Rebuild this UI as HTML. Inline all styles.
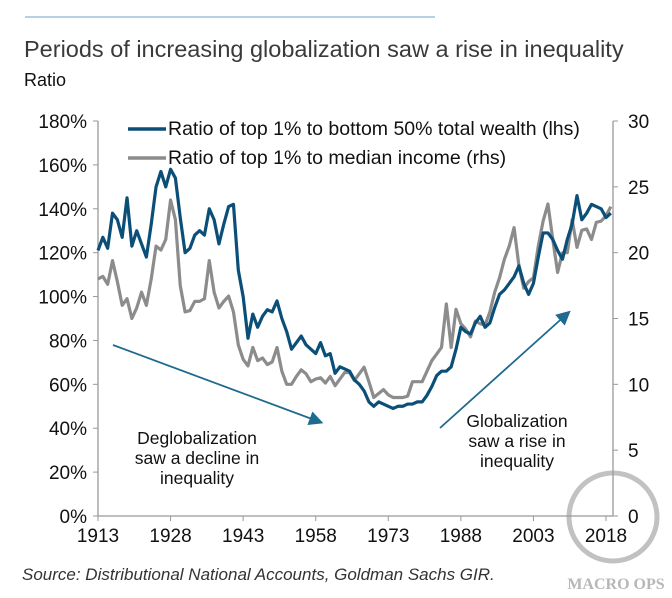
<!DOCTYPE html>
<html><head><meta charset="utf-8"><style>
body{margin:0;background:#fff;width:672px;height:598px;overflow:hidden;font-family:"Liberation Sans",sans-serif}
svg{display:block}
</style></head><body>
<svg width="672" height="598" font-family="Liberation Sans, sans-serif">
<line x1="25" y1="17" x2="435" y2="17" stroke="#9cc3dc" stroke-width="1.5"/>
<text x="24" y="57" font-size="23.5" fill="#3a3a3a">Periods of increasing globalization saw a rise in inequality</text>
<text x="24" y="86" font-size="18" fill="#111">Ratio</text>
<g id="axes"></g>
<g id="series"></g>
<g>
<line x1="128" y1="129" x2="166" y2="129" stroke="#0b4f78" stroke-width="3.5"/>
<text x="168" y="135" font-size="19.5" fill="#111">Ratio of top 1% to bottom 50% total wealth (lhs)</text>
<line x1="128" y1="158" x2="166" y2="158" stroke="#8c8c8c" stroke-width="3.5"/>
<text x="168" y="164" font-size="19.5" fill="#111">Ratio of top 1% to median income (rhs)</text>
</g>
<defs><marker id="ah" markerWidth="8" markerHeight="8" refX="6" refY="4" orient="auto"><path d="M0,0 L8,4 L0,8 z" fill="#1f6a8f"/></marker></defs>
<line x1="113" y1="345" x2="320" y2="422" stroke="#1f6a8f" stroke-width="1.8" marker-end="url(#ah)"/>
<line x1="440" y1="428" x2="568" y2="313" stroke="#1f6a8f" stroke-width="1.8" marker-end="url(#ah)"/>
<text font-size="17.5" fill="#111" text-anchor="middle"><tspan x="197" y="444">Deglobalization</tspan><tspan x="197" y="464">saw a decline in</tspan><tspan x="197" y="484">inequality</tspan></text>
<text font-size="17.5" fill="#111" text-anchor="middle"><tspan x="517" y="427">Globalization</tspan><tspan x="517" y="447">saw a rise in</tspan><tspan x="517" y="467">inequality</tspan></text>
<text x="22" y="580" font-size="17" font-style="italic" fill="#333">Source: Distributional National Accounts, Goldman Sachs GIR.</text>
<g opacity="0.6">
<circle cx="613" cy="517" r="44" fill="none" stroke="#999" stroke-width="5"/>
<text x="616" y="589" font-size="16" font-family="Liberation Serif, serif" fill="#888" text-anchor="middle" font-weight="bold">MACRO OPS</text>
</g>
</svg>
<script>
const years=[];for(let y=1913;y<=2019;y++)years.push(y);
const wealthPct=[121,127,122,138,135,127,145,123,130,124,118,133,150,157,150,158,154,136,120,122,128,130,128,140,135,124,133,141,142,112,100,81,92,86,91,94,93,98,90,84,76,79,82,78,76,74,79,73,74,65,68,67,66,62,60,57,52,50,52,51,50,49,50,50,51,51,52,52,55,59,64,66,66,68,76,86,84,83,88,91,86,88,95,101,103,106,109,114,106,101,106,118,129,129,126,121,117,126,133,146,135,138,142,141,140,136,138];
const incomeRatio=[18,18.2,17.6,19.4,17.8,16,16.5,15,15.8,17,16,18,20.5,20.2,21,24,22.5,17.5,15.5,15.6,16.3,16.3,16.5,19.4,17,15.8,16.3,16.7,15.5,13,11.9,11.4,12.8,11.8,12,11.5,11.7,12.8,11,10,10,10.6,11.1,10.8,10.2,10.4,10.5,10.1,10.6,9.9,10.4,10.9,10.9,10.3,10.8,11.3,10.2,9,9.3,9.6,9.2,9.0,9.0,9.0,9.1,10.2,10.2,10.2,11,11.8,12.3,12.8,16.1,12.8,15.7,14.6,14.2,13.6,14.8,14.6,14.5,15.5,17,18.1,19.5,20.5,21.9,19,17.3,17.8,18.1,20.5,22.4,23.7,21,18.5,20,20,22.5,20.4,21.7,21.8,21,22.3,22.4,22.8,23.5];
const leftTicks=[0,20,40,60,80,100,120,140,160,180];
const rightTicks=[0,5,10,15,20,25,30];
const xTicks=[1913,1928,1943,1958,1973,1988,2003,2018];
const X0=98,X1=613,Y0=516,Y1=121;
const xs=y=>X0+(y-1913)*(606-98)/(2018-1913);
const yl=v=>Y0-(v/180)*(Y0-Y1);
const yr=v=>Y0-(v/30)*(Y0-Y1);
const NS="http://www.w3.org/2000/svg";
function mk(tag,attrs,parent){const e=document.createElementNS(NS,tag);for(const k in attrs)e.setAttribute(k,attrs[k]);parent.appendChild(e);return e;}
const ax=document.getElementById('axes'),se=document.getElementById('series');
let e;
e=mk('line',{x1:X0,y1:Y1,x2:X0,y2:Y0,stroke:'#999','stroke-width':1.3},ax);


e=mk('line',{x1:X1,y1:Y1,x2:X1,y2:Y0,stroke:'#999','stroke-width':1.3},ax);


e=mk('line',{x1:X0,y1:Y0,x2:X1,y2:Y0,stroke:'#999','stroke-width':1.3},ax);


leftTicks.forEach(v=>{const y=yl(v);
 e=mk('line',{x1:X0-5,y1:y,x2:X0,y2:y,stroke:'#999'},ax);
 
 
 e=mk('text',{x:X0-11,y:y+7,'font-size':19,'text-anchor':'end',fill:'#111'},ax);e.textContent=v+'%';
 
 });
rightTicks.forEach(v=>{const y=yr(v);
 e=mk('line',{x1:X1,y1:y,x2:X1+5,y2:y,stroke:'#999'},ax);
 
 
 e=mk('text',{x:X1+15,y:y+7,'font-size':19,fill:'#111'},ax);e.textContent=v;
 
 });
xTicks.forEach(v=>{const x=xs(v);
 e=mk('line',{x1:x,y1:Y0,x2:x,y2:Y0+5,stroke:'#999'},ax);
 
 
 e=mk('text',{x:x,y:Y0+26,'font-size':19,'text-anchor':'middle',fill:'#111'},ax);e.textContent=v;
 
 });
e=mk('polyline',{points:years.map((y,i)=>xs(y)+','+yr(incomeRatio[i])).join(' '),fill:'none',stroke:'#8c8c8c','stroke-width':3.2,'stroke-linejoin':'round'},se);


e=mk('polyline',{points:years.map((y,i)=>xs(y)+','+yl(wealthPct[i])).join(' '),fill:'none',stroke:'#0b4f78','stroke-width':3.2,'stroke-linejoin':'round'},se);


</script>
</body></html>
